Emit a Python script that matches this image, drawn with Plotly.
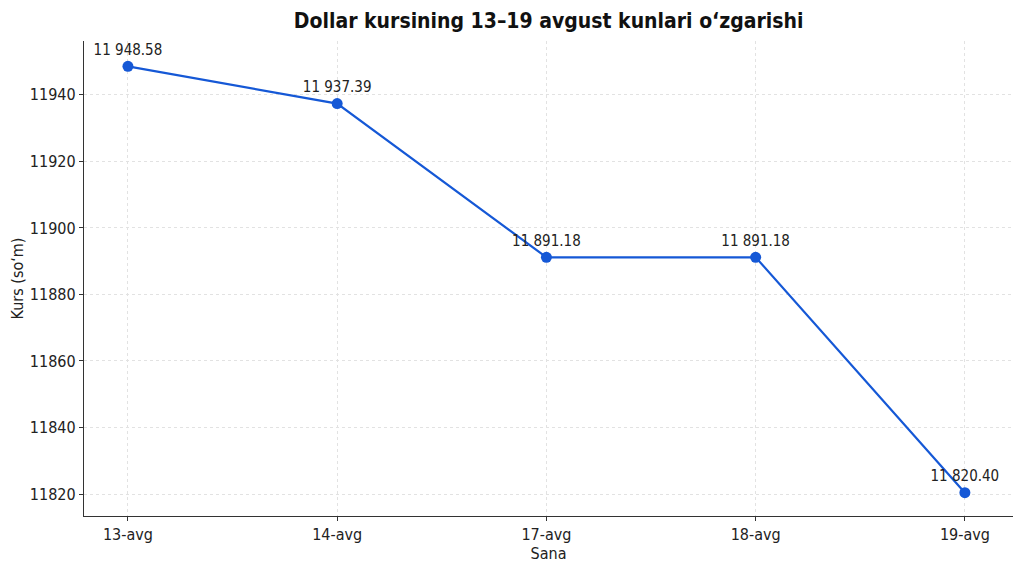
import plotly.graph_objects as go

# Dollar kursi, 13-19 avgust
dates = ["13-avg", "14-avg", "17-avg", "18-avg", "19-avg"]
rates = [11948.58, 11937.39, 11891.18, 11891.18, 11820.40]
y_ticks = [11820, 11840, 11860, 11880, 11900, 11920, 11940]


def fmt_rate(v):
    # space as thousands separator, like "11 948.58"
    return f"{v:,.2f}".replace(",", " ")


font_family = "'DejaVu Sans Condensed', 'DejaVu Sans', sans-serif"
line_color = "#1558d6"

fig = go.Figure()
fig.add_trace(
    go.Scatter(
        x=dates,
        y=rates,
        mode="lines+markers+text",
        line=dict(color=line_color, width=2.2),
        marker=dict(color=line_color, size=11),
        text=[fmt_rate(v) for v in rates],
        textposition="top center",
        textfont=dict(size=15, color="#222222"),
        cliponaxis=False,
        showlegend=False,
    )
)

axis_common = dict(
    showline=True,
    linecolor="#333333",
    linewidth=1.3,
    ticks="outside",
    ticklen=4,
    tickcolor="#333333",
    showgrid=True,
    gridcolor="#e2e2e2",
    griddash="3px,3px",
    gridwidth=1,
    zeroline=False,
    automargin=False,
    tickfont=dict(size=16, color="#222222"),
    title_font=dict(size=16, color="#222222"),
)

fig.update_layout(
    width=1024,
    height=576,
    paper_bgcolor="white",
    plot_bgcolor="white",
    font=dict(family=font_family, color="#222222"),
    title=dict(
        text="<b>Dollar kursining 13–19 avgust kunlari o‘zgarishi</b>",
        x=0.528,
        xanchor="center",
        y=0.978,
        yanchor="middle",
        font=dict(size=21, color="#111111"),
    ),
    xaxis=dict(
        axis_common,
        title=dict(text="Sana", standoff=4),
        range=[-0.21, 4.23],
    ),
    yaxis=dict(
        axis_common,
        title=dict(text="Kurs (so‘m)", standoff=6),
        range=[11813.4, 11956.2],
        tickvals=y_ticks,
        ticktext=[str(t) for t in y_ticks],
    ),
    margin=dict(l=76, r=19, t=33, b=68),
)

fig.write_html("out.html")
